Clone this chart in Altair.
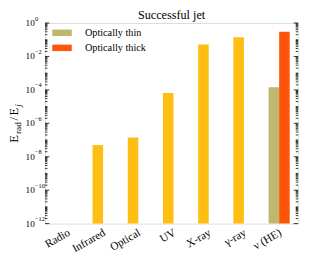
import altair as alt
import pandas as pd

# ---- data ----
categories = ["Radio", "Infrared", "Optical", "UV", "X-ray", "γ-ray", "ν (HE)"]
bar_category = ["Infrared", "Optical", "UV", "X-ray", "γ-ray", "ν (HE)", "ν (HE)"]
bar_series = ["Emission", "Emission", "Emission", "Emission", "Emission",
              "Optically thin", "Optically thick"]
bar_slot = ["a", "a", "a", "a", "a", "a", "b"]
bar_value = [5.0e-8, 1.4e-7, 6.6e-5, 5.2e-2, 0.14, 1.45e-4, 0.30]

series_domain = ["Emission", "Optically thin", "Optically thick"]
series_colors = ["#FFBE14", "#BEB76E", "#FF550A"]

label_exponents = [0, -2, -4, -6, -8, -10, -12]
minor_exponents = list(range(-12, 0))
minor_mults = [1, 2, 3, 4, 5, 6, 7, 8, 9]

chart_title = "Successful jet"

FONT = "Liberation Serif"
W, H = 260, 206

bars_df = pd.DataFrame({"category": bar_category, "series": bar_series,
                        "slot": bar_slot, "value": bar_value})
major_df = pd.DataFrame({"v": [10.0 ** e for e in label_exponents],
                         "base": ["10"] * len(label_exponents),
                         "exp": [str(e).replace("-", "\u2212") for e in label_exponents]})
minor_df = pd.DataFrame({"v": [m * 10.0 ** e for e in minor_exponents for m in minor_mults
                               if not (m == 1 and e % 2 == 0)]})

yscale = alt.Scale(type="log", domain=[1e-12, 1])

bars = alt.Chart(bars_df).mark_bar().encode(
    x=alt.X("category:N", sort=categories,
            scale=alt.Scale(domain=categories, paddingInner=0, paddingOuter=0.095, align=0),
            axis=alt.Axis(title=None, labelAngle=330, labelAlign="right", labelBaseline="top",
                          labelFont=FONT, labelFontSize=11.5, labelColor="black",
                          labelPadding=3, labelOffset=4, ticks=False, domain=False, grid=False)),
    xOffset=alt.XOffset("slot:N", scale=alt.Scale(domain=["a", "b"], paddingInner=0,
                                                  paddingOuter=0.666, align=0.875)),
    y=alt.Y("value:Q", scale=yscale, axis=None),
    y2=alt.datum(1e-12),
    color=alt.Color("series:N",
                    scale=alt.Scale(domain=series_domain, range=series_colors),
                    legend=alt.Legend(title=None, values=["Optically thin", "Optically thick"],
                                      orient="none", legendX=10, legendY=2.5, padding=0,
                                      symbolType="M-1.333,-0.44H1.333V0.44H-1.333Z",
                                      symbolSize=225, symbolStrokeWidth=0, symbolOpacity=1,
                                      rowPadding=2.5, labelOffset=16, labelFont=FONT,
                                      labelFontSize=10.5, labelColor="black",
                                      labelBaseline="middle")),
)

def tick_layer(df, x0, x1):
    return alt.Chart(df).mark_rule(color="black", strokeWidth=0.8).encode(
        y=alt.Y("v:Q", scale=yscale, axis=None),
        x=alt.value(x0), x2=alt.value(x1))

ticks = [
    tick_layer(major_df, 0, 4.5), tick_layer(major_df, W, W - 4.5),
    tick_layer(minor_df, 0, 2.5), tick_layer(minor_df, W, W - 2.5),
]

ylab_base = alt.Chart(major_df).mark_text(
    align="left", baseline="middle", font=FONT, fontSize=9.5, color="black").encode(
    y=alt.Y("v:Q", scale=yscale, axis=None), x=alt.value(-20), text="base:N")
ylab_exp = alt.Chart(major_df).mark_text(
    align="left", baseline="middle", font=FONT, fontSize=6.5, dy=-4.5, color="black").encode(
    y=alt.Y("v:Q", scale=yscale, axis=None), x=alt.value(-10.3), text="exp:N")

# y-axis title  E_rad / E_j  (rotated, built from pieces)
title_pieces = pd.DataFrame({
    "t": ["E", "rad", "/", "E", "j"],
    "size": [13, 9.5, 13, 13, 9.5],
    "style": ["normal", "normal", "normal", "normal", "italic"],
})
def title_piece(i, dx, dy):
    row = title_pieces.iloc[[i]]
    return alt.Chart(row).mark_text(
        angle=270, align="left", baseline="alphabetic", font=FONT,
        fontSize=float(row["size"].iloc[0]), fontStyle=row["style"].iloc[0],
        dx=dx, dy=dy, color="black").encode(
        x=alt.value(-27.5), y=alt.value(123), text="t:N")

ytitle = [title_piece(0, 0, 0), title_piece(1, 9, 2.5), title_piece(2, 23, 0),
          title_piece(3, 28, 0), title_piece(4, 37, 2.5)]

top_title = alt.Chart(pd.DataFrame({"t": [chart_title]})).mark_text(
    align="center", baseline="alphabetic", font=FONT, fontSize=12.5, color="black").encode(
    x=alt.value(W / 2), y=alt.value(-4), text="t:N")

chart = alt.layer(bars, *ticks, ylab_base, ylab_exp, *ytitle, top_title).properties(
    width=W, height=H,
    autosize=alt.AutoSizeParams(type="none"),
    padding={"left": 38, "top": 12, "right": 6, "bottom": 36},
).configure_view(stroke="black", strokeWidth=1.2).configure(
    background="white", font=FONT
).configure_legend(labelFont=FONT, labelFontSize=10.5, labelColor="black")

chart.save("out.html", embed_options={"renderer": "svg", "actions": False})
